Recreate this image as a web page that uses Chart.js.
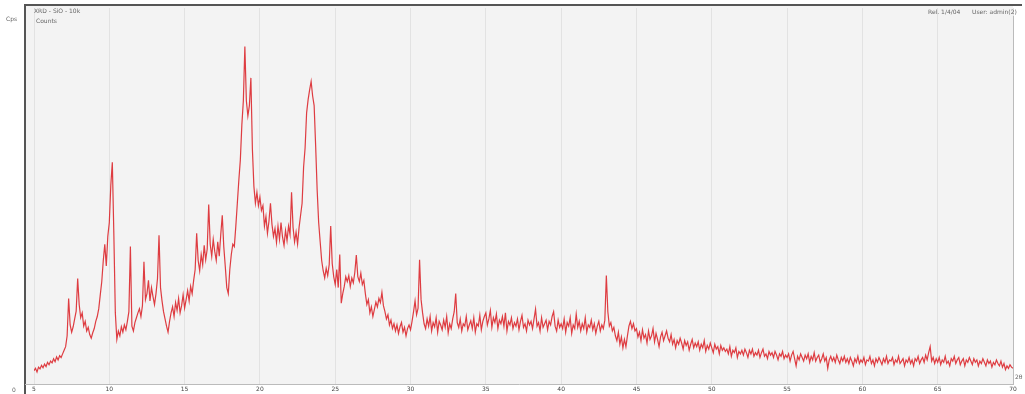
<!DOCTYPE html>
<html>
<head>
<meta charset="utf-8">
<script src="https://cdn.jsdelivr.net/npm/chart.js@4.4.1/dist/chart.umd.min.js"></script>
<style>
html,body{margin:0;padding:0;background:#fff;}
#wrap{position:relative;width:1025px;height:394px;}
canvas{display:block;}
</style>
</head>
<body>
<div id="wrap"><canvas id="c" width="1025" height="394"></canvas></div>
<script>
// 2-theta start / step (degrees)
const twoThetaStart = 5.0;
const twoThetaStep = 0.1;
// intensity (counts), one row per degree: d.0 ... d.9
const counts = [
 22,26,20,28,25,31,27,33,29,36,
 32,38,35,42,37,45,40,47,44,50,
 56,62,80,142,98,86,95,108,121,175,
 132,110,118,96,104,88,94,82,76,85,
 92,104,112,125,148,170,205,232,196,245,
 268,330,368,250,118,74,88,80,95,86,
 98,90,104,120,228,96,88,102,110,118,
 125,112,130,203,140,150,172,138,160,145,
 132,150,175,247,160,138,120,108,96,86,
 104,118,128,112,135,122,142,118,130,148,
 126,140,155,138,162,150,172,190,250,205,
 188,215,198,230,206,224,298,232,212,240,
 220,205,236,212,248,280,228,195,160,150,
 190,215,232,228,262,300,338,372,430,470,
 560,470,445,462,508,390,328,300,318,296,
 310,288,296,262,278,250,270,300,265,245,
 258,235,262,240,268,244,230,255,238,262,
 248,318,260,236,252,232,260,280,300,360,
 392,450,472,488,502,478,462,395,322,268,
 236,205,188,176,192,180,198,262,200,178,
 165,190,160,215,134,150,162,178,170,180,
 162,176,168,185,214,178,170,184,165,172,
 150,132,140,118,128,112,124,136,128,142,
 135,152,130,120,108,115,98,106,92,100,
 88,98,84,95,102,86,94,80,92,98,
 90,104,120,138,115,126,206,140,118,100,
 92,108,96,112,88,102,95,110,86,104,
 98,90,106,94,112,85,100,92,108,120,
 150,102,94,108,88,100,96,112,90,98,
 105,92,110,86,100,96,114,90,104,112,
 118,98,108,122,94,110,102,116,92,106,
 100,112,96,118,88,104,98,110,92,102,
 96,108,90,104,114,94,100,88,106,98,
 104,92,108,124,96,102,88,110,94,100,
 106,90,104,98,112,120,96,88,106,94,
 100,92,108,86,102,96,110,84,98,92,
 116,94,104,88,100,92,110,86,98,94,
 106,90,100,84,96,104,88,98,92,106,
 180,120,96,102,88,94,80,72,86,66,
 78,60,74,62,80,96,104,92,100,88,
 92,78,86,72,90,76,82,68,88,74,
 80,92,70,84,74,62,78,86,72,80,
 88,76,70,82,66,74,60,72,66,76,
 68,58,72,64,70,56,66,74,60,68,
 62,70,56,66,60,72,54,64,58,68,
 60,52,66,58,62,50,64,56,60,54,
 58,50,62,46,56,52,60,44,54,50,
 56,48,58,52,44,56,50,58,46,52,
 48,56,44,52,58,46,50,42,54,48,
 52,44,54,48,40,50,46,54,42,48,
 44,50,38,48,54,42,30,46,40,50,
 44,38,48,42,50,36,46,40,52,38,
 44,48,36,42,50,38,44,26,40,46,
 38,44,36,48,40,34,44,38,46,36,
 42,34,44,38,30,42,36,46,34,40,
 36,44,32,40,38,46,34,40,30,42,
 36,44,38,32,42,36,46,34,40,38,
 44,32,40,36,46,34,38,42,30,40,
 36,44,34,40,30,42,38,46,34,40,
 44,36,48,40,52,62,38,44,34,42,
 36,44,32,40,36,46,34,38,30,42,
 38,46,34,40,44,32,38,42,30,40,
 36,44,38,32,42,36,40,30,38,34,
 42,36,30,40,34,38,28,36,32,40,
 34,30,38,28,34,24,30,26,32,28,
 26
];
const xTicks = [5,10,15,20,25,30,35,40,45,50,55,60,65,70];
const yMaxCounts = 624;

const points = counts.map((v,i)=>({x: +(twoThetaStart + i*twoThetaStep).toFixed(2), y: v}));

const framePlugin = {
  id:'frame',
  beforeDraw(chart){
    const ctx = chart.ctx;
    ctx.save();
    ctx.fillStyle = '#f3f3f3';
    ctx.fillRect(25,5,988,380);
    ctx.restore();
  },
  afterDraw(chart){
    const ctx = chart.ctx;
    ctx.save();
    ctx.strokeStyle = '#555';
    ctx.lineWidth = 2;
    ctx.beginPath();
    ctx.moveTo(25,5); ctx.lineTo(1022,5);
    ctx.moveTo(25,4); ctx.lineTo(25,394);
    ctx.stroke();
    ctx.strokeStyle = '#bbb';
    ctx.lineWidth = 1;
    ctx.beginPath();
    ctx.moveTo(1013.5,16); ctx.lineTo(1013.5,385);
    ctx.moveTo(25,384.5); ctx.lineTo(1014,384.5);
    ctx.stroke();
    ctx.fillStyle = '#666';
    ctx.font = '6px "DejaVu Sans"';
    ctx.textBaseline = 'middle';
    ctx.fillText('XRD - SiO - 10k', 34, 11);
    ctx.fillText('Cps', 6, 19);
    ctx.fillText('Counts', 36, 21);
    ctx.fillText('Rel. 1/4/04', 928, 12);
    ctx.fillText('User: admin(2)', 972, 12);
    ctx.fillText('2θ', 1015, 377);
    ctx.fillText('0', 12, 390);
    ctx.restore();
  }
};

new Chart(document.getElementById('c'), {
  type:'line',
  data:{datasets:[{data:points,borderColor:'rgba(220,40,46,0.9)',borderWidth:1.2,pointRadius:0,tension:0,fill:false}]},
  options:{
    responsive:false,animation:false,
    layout:{padding:{left:34,right:12,top:8,bottom:0}},
    plugins:{legend:{display:false},tooltip:{enabled:false}},
    scales:{
      x:{type:'linear',min:5,max:70,
        afterBuildTicks(s){s.ticks = xTicks.map(v=>({value:v}));},
        afterFit(s){s.height=10;},
        border:{display:false},
        grid:{color:'#e2e2e2',drawTicks:false},
        ticks:{font:{size:6,family:'DejaVu Sans'},color:'#444',padding:2,maxRotation:0,autoSkip:false}},
      y:{display:false,min:0,max:yMaxCounts}
    }
  },
  plugins:[framePlugin]
});
</script>
</body>
</html>
